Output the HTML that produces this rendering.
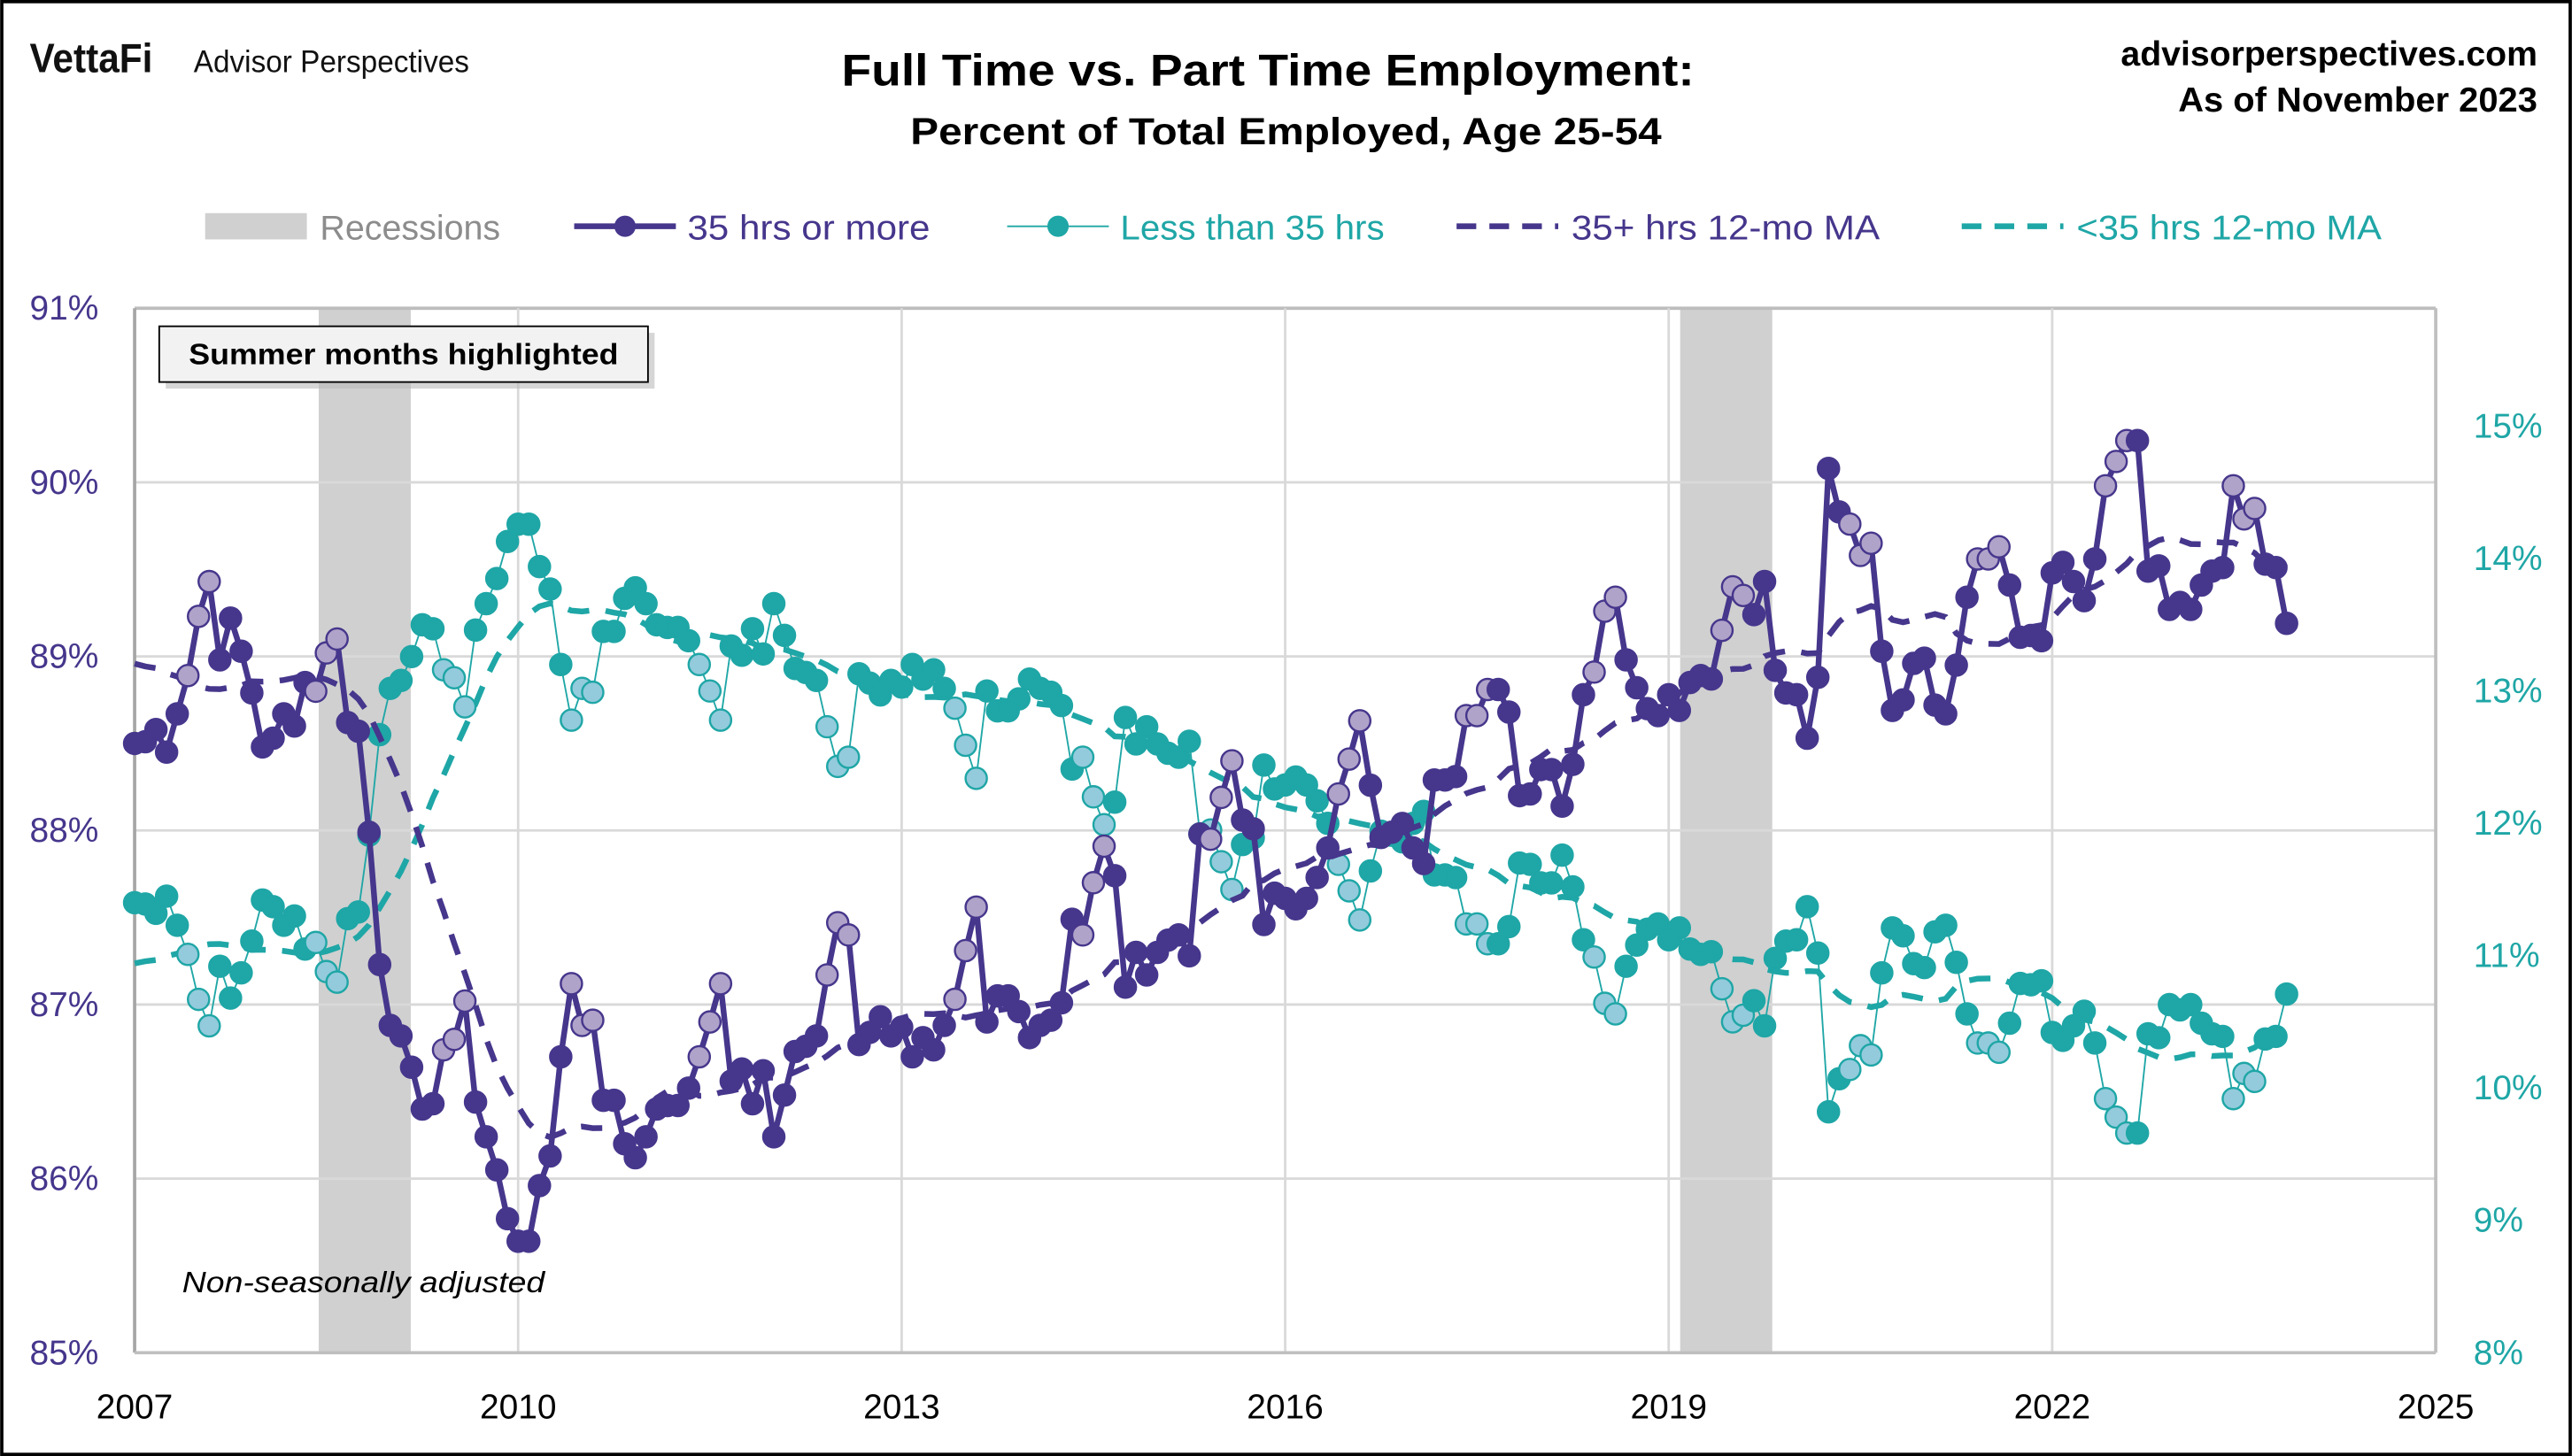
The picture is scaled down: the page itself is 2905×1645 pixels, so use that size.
<!DOCTYPE html>
<html><head><meta charset="utf-8"><style>
html,body{margin:0;padding:0;background:#fff;}
svg{display:block;font-family:"Liberation Sans",sans-serif;}
</style></head><body>
<svg id="chart" width="2905" height="1645" viewBox="0 0 1568 888" xmlns="http://www.w3.org/2000/svg">
<rect x="1" y="1" width="1566" height="886" fill="#fff" stroke="#000" stroke-width="2"/>
<g>
<text x="18" y="44" font-size="25" font-weight="bold" textLength="75" lengthAdjust="spacingAndGlyphs" fill="#111">VettaFi</text>
<text x="118" y="44" font-size="19" textLength="168" lengthAdjust="spacingAndGlyphs" fill="#111">Advisor Perspectives</text>
</g>
<text x="773" y="52" font-size="27" font-weight="bold" text-anchor="middle" textLength="520" lengthAdjust="spacingAndGlyphs">Full Time vs. Part Time Employment:</text>
<text x="784" y="88" font-size="23" font-weight="bold" text-anchor="middle" textLength="458" lengthAdjust="spacingAndGlyphs">Percent of Total Employed, Age 25-54</text>
<text x="1547" y="40" font-size="21" font-weight="bold" text-anchor="end" textLength="254" lengthAdjust="spacingAndGlyphs">advisorperspectives.com</text>
<text x="1547" y="68" font-size="21" font-weight="bold" text-anchor="end" textLength="219" lengthAdjust="spacingAndGlyphs">As of November 2023</text>

<g font-size="21">
<g><rect x="125" y="130" width="62" height="16" fill="#d0d0d0"/><text x="195" y="146" fill="#8c8c8c" textLength="110" lengthAdjust="spacingAndGlyphs">Recessions</text></g>
<g><line x1="350" y1="138" x2="412" y2="138" stroke="#46368c" stroke-width="3.5"/><circle cx="381" cy="138" r="6.5" fill="#46368c"/><text x="419" y="146" fill="#46368c" textLength="148" lengthAdjust="spacingAndGlyphs">35 hrs or more</text></g>
<g><line x1="614" y1="138" x2="676" y2="138" stroke="#1fa6a6" stroke-width="1"/><circle cx="645" cy="138" r="6.5" fill="#1fa6a6"/><text x="683" y="146" fill="#1fa6a6" textLength="161" lengthAdjust="spacingAndGlyphs">Less than 35 hrs</text></g>
<g><line x1="888" y1="138" x2="950" y2="138" stroke="#46368c" stroke-width="3.5" stroke-dasharray="12,8"/><text x="958" y="146" fill="#46368c" textLength="188" lengthAdjust="spacingAndGlyphs">35+ hrs 12-mo MA</text></g>
<g><line x1="1196" y1="138" x2="1258" y2="138" stroke="#1fa6a6" stroke-width="3.5" stroke-dasharray="12,8"/><text x="1266" y="146" fill="#1fa6a6" textLength="186" lengthAdjust="spacingAndGlyphs">&lt;35 hrs 12-mo MA</text></g>
</g>
<g id="plot"></g>
<g>
<rect x="101" y="203" width="298" height="34" fill="#bbb" opacity="0.6"/>
<rect x="97" y="199" width="298" height="34" fill="#f2f2f2" stroke="#000" stroke-width="1"/>
<text x="246" y="222" font-size="18" font-weight="bold" text-anchor="middle" textLength="262" lengthAdjust="spacingAndGlyphs">Summer months highlighted</text>
</g>
<text x="111" y="788" font-size="18" font-style="italic" textLength="221" lengthAdjust="spacingAndGlyphs">Non-seasonally adjusted</text>
</svg>
<script>
const ft2006 = [88.7,88.7,88.8,88.9,89.3,89.5,89.6,89.0,89.1,88.9,88.5];
const pt2006 = [11.2,11.2,11.1,11.0,10.6,10.4,10.3,10.9,10.8,11.0,11.4];
const fullTime = [
88.50,88.51,88.58,88.45,88.67,88.89,89.23,89.43,88.98,89.22,89.03,88.79,
88.48,88.53,88.67,88.60,88.85,88.80,89.02,89.10,88.62,88.57,87.99,87.23,
86.88,86.82,86.64,86.40,86.43,86.74,86.80,87.02,86.44,86.24,86.05,85.77,
85.64,85.64,85.96,86.13,86.70,87.12,86.88,86.91,86.45,86.45,86.20,86.12,
86.24,86.40,86.42,86.42,86.52,86.70,86.90,87.12,86.56,86.63,86.43,86.62,
86.24,86.48,86.73,86.76,86.82,87.17,87.47,87.40,86.77,86.84,86.93,86.82,
86.87,86.70,86.81,86.74,86.88,87.03,87.31,87.56,86.90,87.05,87.05,86.96,
86.81,86.88,86.91,87.01,87.49,87.40,87.70,87.91,87.74,87.10,87.30,87.17,
87.30,87.37,87.40,87.28,87.98,87.95,88.19,88.40,88.06,88.01,87.46,87.64,
87.61,87.55,87.61,87.73,87.90,88.21,88.41,88.63,88.26,87.96,87.99,88.04,
87.90,87.81,88.29,88.29,88.31,88.66,88.66,88.81,88.81,88.68,88.20,88.21,
88.35,88.35,88.14,88.38,88.78,88.91,89.26,89.34,88.98,88.82,88.70,88.66,
88.78,88.69,88.85,88.89,88.87,89.15,89.40,89.35,89.24,89.43,88.92,88.79,
88.78,88.53,88.88,90.08,89.83,89.76,89.58,89.65,89.03,88.69,88.75,88.96,
88.99,88.72,88.67,88.95,89.34,89.56,89.56,89.63,89.41,89.11,89.12,89.09,
89.48,89.54,89.43,89.32,89.56,89.98,90.12,90.24,90.24,89.49,89.52,89.27,
89.31,89.27,89.41,89.49,89.51,89.98,89.79,89.85,89.53,89.51,89.19];
const partTime = [
11.40,11.39,11.32,11.45,11.23,11.01,10.67,10.47,10.92,10.68,10.87,11.11,
11.42,11.37,11.23,11.30,11.05,11.10,10.88,10.80,11.28,11.33,11.91,12.67,
13.02,13.08,13.26,13.50,13.47,13.16,13.10,12.88,13.46,13.66,13.85,14.13,
14.26,14.26,13.94,13.77,13.20,12.78,13.02,12.99,13.45,13.45,13.70,13.78,
13.66,13.50,13.48,13.48,13.38,13.20,13.00,12.78,13.34,13.27,13.47,13.28,
13.66,13.42,13.17,13.14,13.08,12.73,12.43,12.50,13.13,13.06,12.97,13.08,
13.03,13.20,13.09,13.16,13.02,12.87,12.59,12.34,13.00,12.85,12.85,12.94,
13.09,13.02,12.99,12.89,12.41,12.50,12.20,11.99,12.16,12.80,12.60,12.73,
12.60,12.53,12.50,12.62,11.92,11.95,11.71,11.50,11.84,11.89,12.44,12.26,
12.29,12.35,12.29,12.17,12.00,11.69,11.49,11.27,11.64,11.94,11.91,11.86,
12.00,12.09,11.61,11.61,11.59,11.24,11.24,11.09,11.09,11.22,11.70,11.69,
11.55,11.55,11.76,11.52,11.12,10.99,10.64,10.56,10.92,11.08,11.20,11.24,
11.12,11.21,11.05,11.01,11.03,10.75,10.50,10.55,10.66,10.47,10.98,11.11,
11.12,11.37,11.02,9.82,10.07,10.14,10.32,10.25,10.87,11.21,11.15,10.94,
10.91,11.18,11.23,10.95,10.56,10.34,10.34,10.27,10.49,10.79,10.78,10.81,
10.42,10.36,10.47,10.58,10.34,9.92,9.78,9.66,9.66,10.41,10.38,10.63,
10.59,10.63,10.49,10.41,10.39,9.92,10.11,10.05,10.37,10.39,10.71];
const startYear = 2007;
const recessionStart = [2008.44, 2019.09];
const recessionEnd = [2009.16, 2019.81];
const leftTicks = [85,86,87,88,89,90,91];
const rightTicks = [8,9,10,11,12,13,14,15];
const xTicks = [2007,2010,2013,2016,2019,2022,2025];

const NS='http://www.w3.org/2000/svg';
const X0=82,X1=1485,Y0=188,Y1=825;
const xScale=t=>X0+(t-2007)/(2025-2007)*(X1-X0);
const yL=v=>Y1-(v-85)/(91-85)*(Y1-Y0);
const yRight=v=>Y1-(v-8)*((Y1-260)/7);
const plot=document.getElementById('plot');
function mk(tag,attrs,parent){const e=document.createElementNS(NS,tag);for(const k in attrs)e.setAttribute(k,attrs[k]);(parent||plot).appendChild(e);return e;}

for(let i=0;i<recessionStart.length;i++){
  const r=mk('rect',{x:xScale(recessionStart[i]),y:Y0,width:xScale(recessionEnd[i])-xScale(recessionStart[i]),height:Y1-Y0,fill:'#d0d0d0'});
  
  
}
leftTicks.forEach(v=>{
  const l=mk('line',{x1:X0,x2:X1,y1:yL(v),y2:yL(v),stroke:v===91?'#bdbdbd':'#d9d9d9','stroke-width':v===91?2:1.5});
  
  
  const t=mk('text',{x:60,y:yL(v)+7,'font-size':21,'text-anchor':'end',fill:'#46368c'});
  t.textContent=v+'%';
  
  
});
xTicks.forEach(v=>{
  const l=mk('line',{x1:xScale(v),x2:xScale(v),y1:Y0,y2:Y1,stroke:'#d9d9d9','stroke-width':1.5});
  
  
  const t=mk('text',{x:xScale(v),y:865,'font-size':21,'text-anchor':'middle',fill:'#000'});
  t.textContent=v;
  
  
});
rightTicks.forEach(v=>{
  const t=mk('text',{x:1508,y:yRight(v)+7,'font-size':21,'text-anchor':'start',fill:'#1fa6a6'});
  t.textContent=v+'%';
  
  
});
const axL=mk('line',{x1:X0,x2:X0,y1:Y0,y2:Y1,stroke:'#a6a6a6','stroke-width':2});


const axR=mk('line',{x1:X1,x2:X1,y1:Y0,y2:Y1,stroke:'#bfbfbf','stroke-width':2});


const axB=mk('line',{x1:X0,x2:X1,y1:Y1,y2:Y1,stroke:'#bfbfbf','stroke-width':2});



const tOf=i=>startYear+i/12;
function ma(prev,arr){const all=prev.concat(arr);const out=[];for(let i=0;i<arr.length;i++){let s=0;for(let k=i;k<i+12;k++)s+=all[k];out.push(s/12);}return out;}
const ftMA=ma(ft2006,fullTime), ptMA=ma(pt2006,partTime);

function pathD(arr,ys){return arr.map((v,i)=>(i?'L':'M')+xScale(tOf(i)).toFixed(2)+','+ys(v).toFixed(2)).join(' ');}
const ptLine=mk('path',{d:pathD(partTime,yRight),fill:'none',stroke:'#1fa6a6','stroke-width':1});


const ptMaLine=mk('path',{d:pathD(ptMA,yRight),fill:'none',stroke:'#1fa6a6','stroke-width':3.5,'stroke-dasharray':'13,10'});


partTime.forEach((v,i)=>{
  const s=[5,6,7].includes(i%12);
  const c=mk('circle',{cx:xScale(tOf(i)),cy:yRight(v),r:6.5,fill:s?'#93cbdc':'#1fa6a6',stroke:'#1fa6a6','stroke-width':1.3});
  
  
});
const ftLine=mk('path',{d:pathD(fullTime,yL),fill:'none',stroke:'#46368c','stroke-width':3.5});


const ftMaLine=mk('path',{d:pathD(ftMA,yL),fill:'none',stroke:'#46368c','stroke-width':3.5,'stroke-dasharray':'13,10'});


fullTime.forEach((v,i)=>{
  const s=[5,6,7].includes(i%12);
  const c=mk('circle',{cx:xScale(tOf(i)),cy:yL(v),r:6.5,fill:s?'#b0a3c9':'#46368c',stroke:'#46368c','stroke-width':1.3});
  
  
});
</script>
</body></html>
